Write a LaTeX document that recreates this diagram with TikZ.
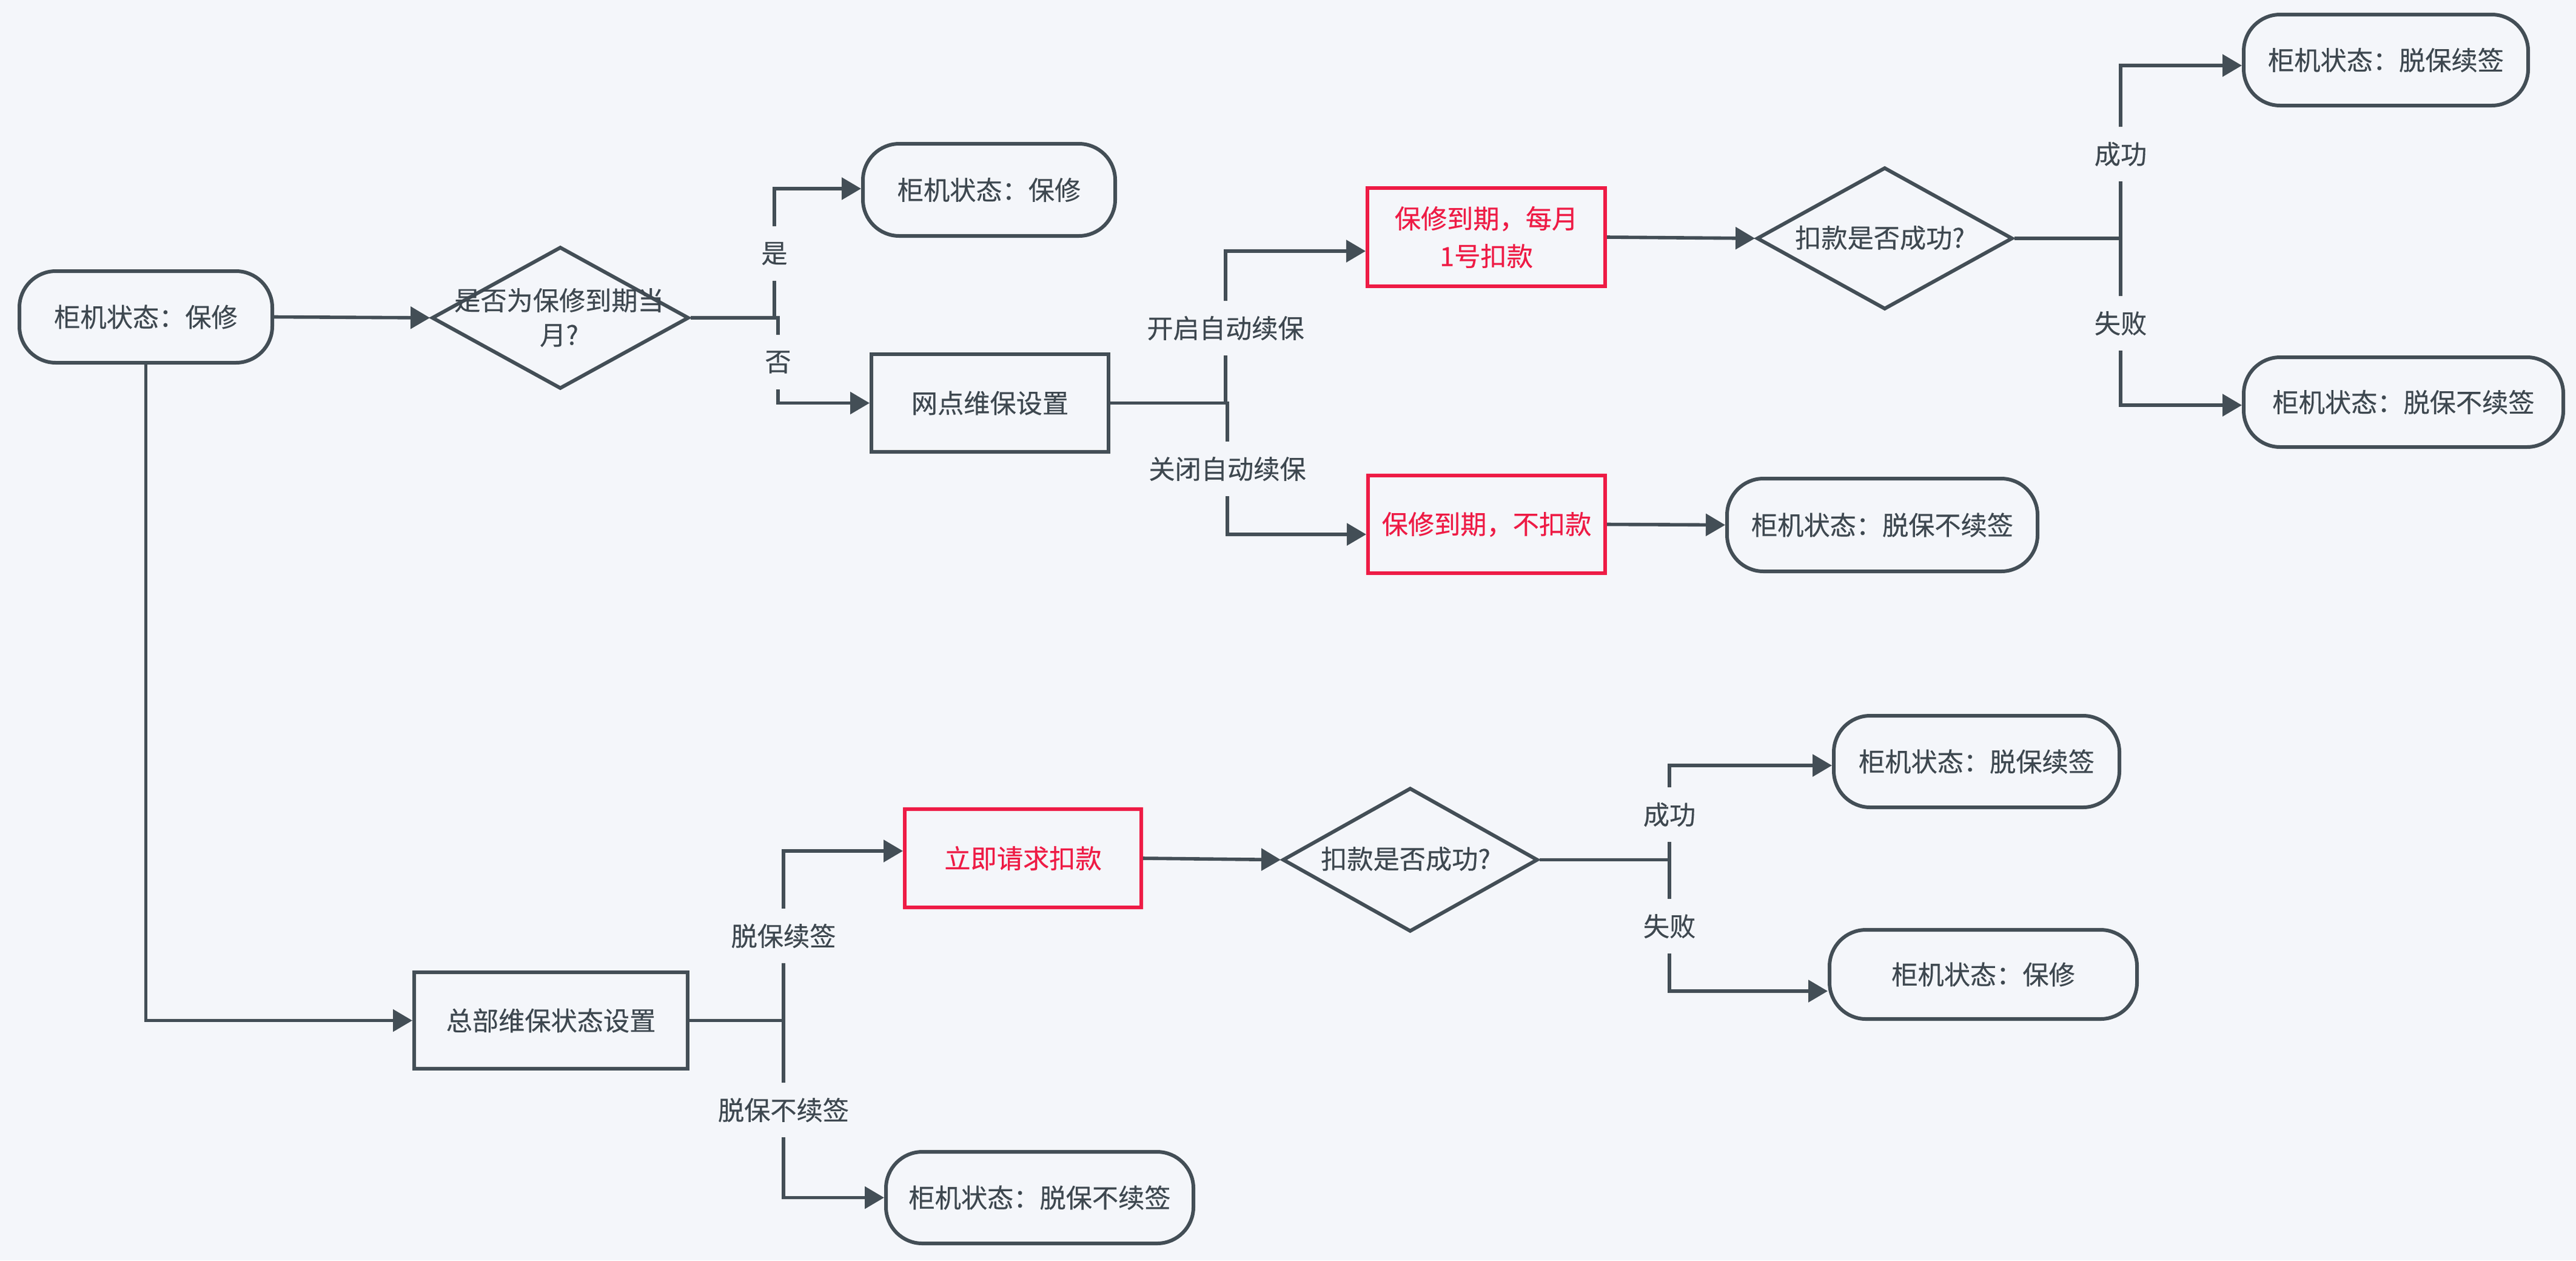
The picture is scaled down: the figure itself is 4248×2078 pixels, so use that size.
\documentclass[tikz,border=0pt]{standalone}
\usepackage{fontspec}
\setmainfont[FakeBold=0.35]{Noto Sans CJK SC}
\usetikzlibrary{shapes.geometric,arrows.meta,calc}
\definecolor{bgc}{HTML}{F4F6FA}
\definecolor{linec}{HTML}{434E56}
\definecolor{txtc}{HTML}{3E4850}
\definecolor{redc}{HTML}{EE1B45}
\tikzset{
  fnt/.style={font=\fontsize{10.8pt}{15.5pt}\selectfont},
  base/.style={fnt, text=txtc, align=center, line width=1.5pt, draw=linec, inner sep=2pt},
  term/.style={base, rounded corners=15pt},
  proc/.style={base},
  redbox/.style={base, draw=redc, text=redc},
  dia/.style={base, diamond, inner sep=0pt},
  dtxt/.style={fnt, text=txtc, align=center, inner sep=0pt},
  conn/.style={draw=linec, line width=1.4pt, -{Triangle[length=8pt,width=9pt]}},
  lbl/.style={fnt, text=txtc, fill=bgc, inner xsep=5pt, inner ysep=0pt, minimum height=22.5pt}
}
\begin{document}
\begin{tikzpicture}[x=0.25pt, y=-0.25pt]
\fill[bgc] (0,0) rectangle (4248,2078);
\useasboundingbox (0,0) rectangle (4248,2078);

% nodes
\node[term, minimum width=104.25pt, minimum height=37.75pt] (start) at (240.5,522.5) {柜机状态：保修};
\node[dia, minimum width=106pt, minimum height=58.5pt] (d1) at (924,524) {};
\node[dtxt, font=\fontsize{10.8pt}{14.25pt}\selectfont] (d1t) at (922,523.5) {是否为保修到期当\\月?};
\node[term, minimum width=104pt, minimum height=38pt] (sb) at (1631,313) {柜机状态：保修};
\node[proc, minimum width=97.75pt, minimum height=40.25pt] (wd) at (1632.5,664.5) {网点维保设置};
\node[redbox, minimum width=98pt, minimum height=40.5pt] (r1) at (2451,391) {保修到期，每月\\1号扣款};
\node[redbox, minimum width=97.75pt, minimum height=40.25pt] (r2) at (2451.5,864.5) {保修到期，不扣款};
\node[term, minimum width=128pt, minimum height=38.25pt] (m1) at (3104,865.5) {柜机状态：脱保不续签};
\node[dia, minimum width=105.5pt, minimum height=58.5pt] (d2) at (3108,393) {};
\node[dtxt] (d2t) at (3100,392) {扣款是否成功?};
\node[term, minimum width=117.25pt, minimum height=37.5pt] (tr1) at (3934.5,99) {柜机状态：脱保续签};
\node[term, minimum width=131.75pt, minimum height=37pt] (tr2) at (3963.5,663) {柜机状态：脱保不续签};
\node[proc, minimum width=112.75pt, minimum height=39.75pt] (hq) at (908.5,1682.5) {总部维保状态设置};
\node[redbox, minimum width=97.5pt, minimum height=40.5pt] (r3) at (1687,1415) {立即请求扣款};
\node[term, minimum width=126.75pt, minimum height=37.75pt] (b1) at (1714.5,1974.5) {柜机状态：脱保不续签};
\node[dia, minimum width=105.25pt, minimum height=59.25pt] (d3) at (2325.5,1417.5) {};
\node[dtxt] (d3t) at (2318,1416) {扣款是否成功?};
\node[term, minimum width=117.75pt, minimum height=37.75pt] (br1) at (3259.5,1255.5) {柜机状态：脱保续签};
\node[term, minimum width=126.75pt, minimum height=36.75pt] (br2) at (3270.5,1606.5) {柜机状态：保修};

% connectors
\draw[conn] (start.east) -- (d1.west);
\draw[conn] (d1.east) -- (1277,524) |- ($(sb.west)+(0,-2)$);
\draw[conn] (d1.east) -- (1283,524) |- (wd.west);
\draw[conn] (start.south) |- (hq.west);
\draw[conn] (wd.east) -- (2021,664.5) |- ($(r1.west)+(0,23)$);
\draw[conn] (wd.east) -- (2024,664.5) |- ($(r2.west)+(0,16.5)$);
\draw[conn] (r2.east) -- (m1.west);
\draw[conn] (r1.east) -- (d2.west);
\draw[conn] (d2.east) -- (3497,393) |- ($(tr1.west)+(0,9)$);
\draw[conn] (d2.east) -- (3497,393) |- ($(tr2.west)+(0,5)$);
\draw[conn] (hq.east) -- (1292,1682.5) |- ($(r3.west)+(0,-12)$);
\draw[conn] (hq.east) -- (1292,1682.5) |- (b1.west);
\draw[conn] (r3.east) -- (d3.west);
\draw[conn] (d3.east) -- (2753,1417.5) |- ($(br1.west)+(0,6.5)$);
\draw[conn] (d3.east) -- (2753,1417.5) |- ($(br2.west)+(0,27.5)$);

% edge labels
\node[lbl] (lyes) at (1277,418) {是};
\node[lbl] (lno) at (1283,597) {否};
\node[lbl] (lon) at (2021,541) {开启自动续保};
\node[lbl] (loff) at (2024,773) {关闭自动续保};
\node[lbl] (lsucc1) at (3497,254) {成功};
\node[lbl] (lfail1) at (3497,533) {失败};
\node[lbl] (lxq) at (1292,1543) {脱保续签};
\node[lbl] (lbxq) at (1292,1830) {脱保不续签};
\node[lbl] (lsucc2) at (2753,1343) {成功};
\node[lbl] (lfail2) at (2753,1527) {失败};
\end{tikzpicture}
\end{document}
